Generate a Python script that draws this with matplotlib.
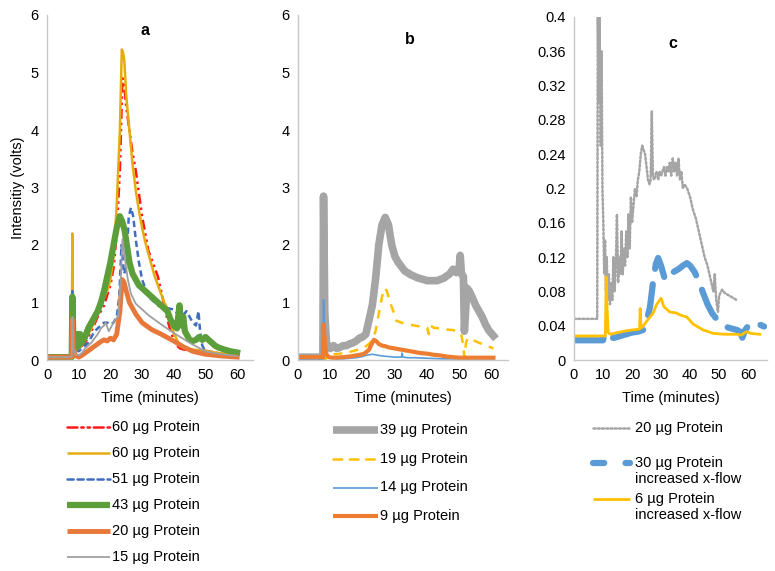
import matplotlib
matplotlib.use("Agg")
import matplotlib.pyplot as plt
from matplotlib.lines import Line2D

plt.rcParams['font.family'] = ['Liberation Sans', 'DejaVu Sans']

# ---------------- Panel a ----------------
a_red_t = [0, 7.8, 8.0, 8.3, 9, 10, 12, 14, 16, 18, 20, 21, 22, 23, 23.8, 24.3, 25, 26, 27, 28, 29, 30, 31, 32, 33, 34, 35, 36, 37, 38, 39, 40, 41, 42, 44, 46, 48, 50, 52, 54, 56, 58, 60]
a_red_v = [0.05, 0.05, 1.0, 0.3, 0.2, 0.2, 0.3, 0.5, 0.75, 0.95, 1.3, 1.6, 2.2, 3.3, 4.9, 4.8, 4.4, 4.0, 3.6, 3.3, 2.9, 2.5, 2.2, 1.9, 1.75, 1.6, 1.45, 1.2, 0.95, 0.7, 0.5, 0.35, 0.25, 0.2, 0.17, 0.17, 0.17, 0.16, 0.14, 0.12, 0.1, 0.09, 0.08]

a_yel_t = [0, 7.8, 8.0, 8.2, 8.6, 9, 10, 12, 14, 16, 17, 18, 19, 20, 21, 22, 23, 23.6, 24.0, 24.4, 25, 26, 27, 28, 29, 30, 31, 32, 33, 34, 35, 36, 37, 38, 39, 40, 41, 42, 44, 46, 48, 50, 52, 54, 56, 58, 60]
a_yel_v = [0.05, 0.05, 2.2, 0.8, 0.3, 0.2, 0.2, 0.35, 0.55, 0.8, 1.0, 1.1, 1.2, 1.4, 1.8, 2.7, 4.0, 5.4, 5.35, 5.2, 4.6, 4.0, 3.4, 2.95, 2.6, 2.3, 2.05, 1.85, 1.65, 1.45, 1.3, 1.15, 1.0, 0.9, 0.65, 0.47, 0.35, 0.25, 0.2, 0.18, 0.17, 0.16, 0.14, 0.12, 0.11, 0.1, 0.09]

a_blu_t = [0, 7.8, 8.0, 8.3, 9, 10, 11, 12, 13, 14, 15, 16, 17, 18, 19, 20, 21, 22, 22.8, 23.5, 24.3, 25.0, 25.8, 26.5, 27.2, 28, 29, 30, 31, 32, 33, 34, 35, 36, 38, 40, 41, 42, 43, 44, 45, 46, 47, 47.8, 48.3, 49, 50, 51, 53, 55, 58, 60]
a_blu_v = [0.05, 0.05, 1.2, 0.4, 0.2, 0.15, 0.2, 0.25, 0.3, 0.4, 0.5, 0.55, 0.6, 0.65, 0.65, 0.62, 0.65, 0.75, 1.1, 2.0, 1.5, 1.6, 2.5, 2.65, 2.5, 2.1, 1.7, 1.4, 1.25, 1.1, 1.05, 1.0, 0.95, 0.92, 0.9, 0.88, 0.82, 0.85, 0.78, 0.85, 0.75, 0.65, 0.6, 0.85, 0.5, 0.25, 0.15, 0.12, 0.1, 0.08, 0.07, 0.06]

a_grn_t = [0, 7.8, 8.0, 8.3, 9, 9.6, 10, 10.5, 11, 12, 13, 14, 15, 16, 17, 18, 19, 20, 21, 22, 23, 23.8, 24.5, 25.2, 26, 27, 28, 29, 30, 31, 32, 33, 34, 35, 36, 37, 38, 39, 40, 41, 41.8, 42.4, 43, 43.5, 44, 45, 46, 47, 48, 49, 50, 51, 52, 53, 54, 56, 58, 60]
a_grn_v = [0.05, 0.05, 1.1, 0.4, 0.2, 0.45, 0.25, 0.45, 0.3, 0.4, 0.55, 0.65, 0.75, 0.85, 1.0, 1.2, 1.45, 1.7, 2.0, 2.3, 2.5, 2.4, 2.25, 2.0, 1.7, 1.5, 1.4, 1.3, 1.25, 1.2, 1.15, 1.1, 1.05, 1.0, 0.95, 0.9, 0.85, 0.7, 0.6, 0.55, 0.95, 0.6, 0.75, 0.5, 0.45, 0.35, 0.33, 0.35, 0.4, 0.35, 0.4, 0.35, 0.3, 0.25, 0.22, 0.18, 0.15, 0.13]

a_org_t = [0, 7.8, 8.0, 8.3, 9, 10, 11, 12, 14, 16, 17, 18, 19, 20, 21, 22, 23, 23.7, 24.3, 25, 26, 28, 30, 33, 36, 40, 43, 46, 50, 55, 60]
a_org_v = [0.05, 0.05, 0.7, 0.2, 0.08, 0.05, 0.08, 0.12, 0.2, 0.28, 0.32, 0.35, 0.33, 0.38, 0.35, 0.45, 0.85, 1.4, 1.35, 1.2, 1.0, 0.8, 0.65, 0.53, 0.45, 0.33, 0.23, 0.15, 0.1, 0.07, 0.05]

a_gry_t = [0, 7.8, 8.0, 8.3, 9, 10, 11, 12, 14, 16, 17, 18, 18.5, 19.5, 20.5, 21.5, 22.5, 23.2, 23.8, 24.5, 25.5, 26.5, 28, 32, 36, 40, 45, 50, 55, 60]
a_gry_v = [0.05, 0.05, 0.75, 0.2, 0.1, 0.08, 0.12, 0.2, 0.3, 0.45, 0.55, 0.6, 0.65, 0.5, 0.6, 0.7, 0.75, 1.3, 2.1, 1.8, 1.4, 1.15, 0.98, 0.78, 0.62, 0.47, 0.3, 0.15, 0.1, 0.07]

# ---------------- Panel b ----------------
b_gry_t = [0, 7.7, 7.9, 8.3, 8.8, 9.3, 10, 11, 12, 13, 14, 15, 16, 17, 18, 19, 20, 21, 22, 23, 24, 25, 26, 27, 28, 29, 30, 31, 33, 35, 37, 40, 43, 45, 47, 48, 49, 49.8, 50.2, 50.6, 51.2, 51.5, 52.3, 53, 54, 55, 56, 57, 58, 59, 60.5]
b_gry_v = [0.05, 0.05, 2.85, 0.8, 0.3, 0.25, 0.2, 0.25, 0.2, 0.22, 0.25, 0.25, 0.28, 0.3, 0.33, 0.38, 0.4, 0.45, 0.7, 0.95, 1.4, 2.0, 2.35, 2.48, 2.35, 2.0, 1.8, 1.7, 1.55, 1.48, 1.43, 1.38, 1.38, 1.42, 1.5, 1.58, 1.52, 1.55, 1.82, 1.5, 1.45, 0.5, 1.25, 1.2, 1.08, 0.95, 0.85, 0.75, 0.62, 0.52, 0.42]

b_yel_t = [8.5, 9, 10, 12, 14, 16, 18, 20, 22, 23, 24, 25, 26, 26.8, 27.5, 28.5, 29.5, 30.5, 32, 34, 36, 38, 40, 40.5, 41, 42, 44, 46, 48, 49.5, 50.5, 51.0, 51.5, 52.0, 52.5, 54, 56, 58, 60.5]
b_yel_v = [0.0, 0.15, 0.1, 0.1, 0.12, 0.14, 0.17, 0.2, 0.28, 0.35, 0.5, 0.8, 1.1, 1.25, 1.2, 1.0, 0.85, 0.68, 0.65, 0.62, 0.6, 0.58, 0.56, 0.45, 0.6, 0.56, 0.55, 0.53, 0.52, 0.5, 0.45, 0.3, 0.05, 0.3, 0.38, 0.35, 0.3, 0.26, 0.2]

b_blu_t = [0, 7.7, 7.9, 8.2, 8.6, 9.5, 10.5, 12, 14, 16, 18, 20, 21, 22, 23, 24, 25, 26, 28, 30, 32, 32.2, 32.5, 34, 36, 40, 45, 50, 55, 60.5]
b_blu_v = [0.02, 0.02, 1.05, 0.5, 0.15, 0.05, 0.03, 0.02, 0.02, 0.03, 0.04, 0.06, 0.08, 0.09, 0.1, 0.09, 0.08, 0.07, 0.06, 0.05, 0.05, 0.12, 0.05, 0.04, 0.04, 0.03, 0.02, 0.02, 0.02, 0.02]

b_org_t = [0, 7.7, 7.9, 8.3, 8.8, 9.5, 10.5, 12, 14, 16, 18, 20, 21, 22, 22.8, 23.5, 24.2, 25, 26, 27, 28, 30, 32, 34, 36, 38, 40, 42, 44, 46, 48, 50, 55, 60.5]
b_org_v = [0.05, 0.05, 0.62, 0.3, 0.1, 0.05, 0.04, 0.04, 0.05, 0.06, 0.08, 0.1, 0.13, 0.18, 0.28, 0.35, 0.33, 0.28, 0.25, 0.24, 0.22, 0.2, 0.18, 0.16, 0.14, 0.12, 0.11, 0.09, 0.08, 0.06, 0.05, 0.04, 0.04, 0.04]

# ---------------- Panel c ----------------
c_gry_t = [0, 8.0, 8.2, 8.5, 8.8, 9.2, 9.5, 9.8, 10.1, 10.4, 10.7, 11.0, 11.3, 11.6, 12.0, 12.4, 12.8, 13.2, 13.6, 14.0, 14.4, 14.8, 15.2, 15.6, 16.0, 16.4, 16.8, 17.2, 17.6, 18.0, 18.4, 18.8, 19.2, 19.6, 20.0, 20.5, 21.0, 21.5, 22.0, 22.5, 23.0, 23.5, 24.0, 24.5, 25.0, 25.5, 26.0, 26.4, 26.8, 27.2, 27.6, 28.0, 28.5, 29, 29.5, 30, 30.5, 31, 31.5, 32, 32.5, 33, 33.5, 34, 34.5, 35, 35.5, 36, 36.5, 37, 37.5, 38, 39, 40, 41, 42, 43, 44, 45, 46, 47, 48, 48.5, 49, 49.6, 50, 51, 52, 53, 54, 55, 56]
c_gry_v = [0.048, 0.048, 0.4, 0.3, 0.4, 0.25, 0.36, 0.2, 0.16, 0.1, 0.14, 0.08, 0.12, 0.07, 0.1, 0.065, 0.09, 0.07, 0.12, 0.08, 0.11, 0.17, 0.09, 0.12, 0.1, 0.15, 0.1, 0.13, 0.11, 0.15, 0.12, 0.17, 0.13, 0.19, 0.16, 0.18, 0.2, 0.19, 0.21, 0.22, 0.24, 0.25, 0.245, 0.24, 0.225, 0.21, 0.205, 0.21, 0.29, 0.215, 0.21, 0.215, 0.22, 0.21, 0.22, 0.215, 0.22, 0.225, 0.215, 0.225, 0.22, 0.23, 0.215, 0.235, 0.22, 0.23, 0.215, 0.235, 0.21, 0.22, 0.2, 0.205, 0.2, 0.19, 0.175, 0.165, 0.15, 0.135, 0.12, 0.11, 0.095, 0.08, 0.1, 0.07, 0.056, 0.075, 0.082, 0.078, 0.076, 0.074, 0.072, 0.07]

c_blu_t = [0, 10.0, 10.5, 11.0, 12, 14, 16, 18, 20, 22, 23.8, 25, 26.2, 27.2, 28.2, 29, 30, 31.4, 32.5, 34, 36, 37.5, 38.9, 40, 41.5, 43, 44.5, 46, 47.5, 49.3, 51, 53, 55, 56.2, 57.2, 58, 59, 60.7, 62, 63.5, 65.5]
c_blu_v = [0.023, 0.023, 0.03, 0.025, 0.025, 0.026, 0.028, 0.03, 0.032, 0.033, 0.035, 0.045, 0.062, 0.09, 0.112, 0.119, 0.11, 0.093, 0.097, 0.102, 0.106, 0.11, 0.113, 0.11, 0.103, 0.092, 0.078, 0.065, 0.055, 0.047, 0.042, 0.038, 0.036, 0.035, 0.033, 0.026, 0.035, 0.043, 0.042, 0.042, 0.039]

c_yel_t = [0, 10.8, 11.1, 11.4, 11.8, 12.5, 15, 18, 20, 22.6, 22.8, 23.1, 23.5, 25, 27.3, 28.5, 30, 31, 33, 35, 37, 38.9, 41, 44.5, 48, 52, 56, 57.5, 59.5, 61, 64]
c_yel_v = [0.028, 0.028, 0.097, 0.06, 0.032, 0.03, 0.032, 0.034, 0.035, 0.036, 0.06, 0.038, 0.038, 0.045, 0.055, 0.065, 0.072, 0.062, 0.056, 0.055, 0.052, 0.05, 0.042, 0.035, 0.031, 0.03, 0.03, 0.029, 0.033, 0.031, 0.03]

a_labels = ["60 µg Protein", "60 µg Protein", "51 µg Protein", "43 µg Protein", "20 µg Protein", "15 µg Protein"]
b_labels = ["39 µg Protein", "19 µg Protein", "14 µg Protein", "9 µg Protein"]
c_labels = ["20 µg Protein", "30 µg Protein\nincreased x-flow", "6 µg Protein\nincreased x-flow"]

a_yticks = [0, 1, 2, 3, 4, 5, 6]
c_yticks = [0, 0.04, 0.08, 0.12, 0.16, 0.2, 0.24, 0.28, 0.32, 0.36, 0.4]
c_yticklabels = ["0", "0.04", "0.08", "0.12", "0.16", "0.2", "0.24", "0.28", "0.32", "0.36", "0.4"]
xticks = [0, 10, 20, 30, 40, 50, 60]

# styles
a_styles = [
    dict(color='#FF1A1A', lw=1.8, ls=(0, (4, 1.5, 1, 1.5, 1, 1.5))),
    dict(color='#E5AC10', lw=1.8, ls='-'),
    dict(color='#3F6EC0', lw=1.8, ls=(0, (2.5, 1.5))),
    dict(color='#5B9E3A', lw=4.5, ls='-'),
    dict(color='#E8783A', lw=3.5, ls='-'),
    dict(color='#A0A0A0', lw=1.3, ls='-'),
]
b_styles = [
    dict(color='#A5A5A5', lw=5.5, ls='-'),
    dict(color='#FFC000', lw=1.8, ls=(0, (3.5, 3))),
    dict(color='#5B9BD5', lw=1.2, ls='-'),
    dict(color='#ED7D31', lw=3.0, ls='-'),
]
c_styles = [
    dict(color='#A5A5A5', lw=1.8, ls=(0, (0.8, 0.9))),
    dict(color='#5B9BD5', lw=4.5, ls=(0, (5, 2.5)), leg_ls=(0, (1.8, 3.4))),
    dict(color='#FFC000', lw=2.0, ls='-'),
]

W, H = 775, 571
fig = plt.figure(figsize=(W / 100, H / 100), dpi=100)

def px_axes(x0, x1, ytop, ybot):
    return fig.add_axes([x0 / W, 1 - ybot / H, (x1 - x0) / W, (ybot - ytop) / H])

axa = px_axes(47, 253, 15, 360)
axb = px_axes(298, 508, 15, 360)
axc = px_axes(574, 767, 17, 360)

for t, v, s in zip([a_red_t, a_yel_t, a_blu_t, a_grn_t, a_org_t, a_gry_t],
                   [a_red_v, a_yel_v, a_blu_v, a_grn_v, a_org_v, a_gry_v], a_styles):
    axa.plot(t, v, color=s['color'], lw=s['lw'], ls=s['ls'], solid_joinstyle='round')
for t, v, s in zip([b_gry_t, b_yel_t, b_blu_t, b_org_t],
                   [b_gry_v, b_yel_v, b_blu_v, b_org_v], b_styles):
    axb.plot(t, v, color=s['color'], lw=s['lw'], ls=s['ls'], solid_joinstyle='round')
for t, v, s in zip([c_gry_t, c_blu_t, c_yel_t],
                   [c_gry_v, c_blu_v, c_yel_v], c_styles):
    axc.plot(t, v, color=s['color'], lw=s['lw'], ls=s['ls'], solid_joinstyle='round',
             dash_capstyle='round')

for ax, xmax in [(axa, 65), (axb, 65), (axc, 66.5)]:
    ax.set_xlim(0, xmax)
    ax.set_xticks(xticks)
    for sp in ['top', 'right']:
        ax.spines[sp].set_visible(False)
    for sp in ['left', 'bottom']:
        ax.spines[sp].set_color('#C8C8C8')
        ax.spines[sp].set_linewidth(1.0)
    ax.tick_params(length=0, labelsize=10.5, pad=6)
    ax.set_xlabel("Time (minutes)", fontsize=10.5, labelpad=6)

for ax in (axa, axb):
    ax.set_ylim(0, 6)
    ax.set_yticks(a_yticks)
axc.set_ylim(0, 0.4)
axc.set_yticks(c_yticks)
axc.set_yticklabels(c_yticklabels)
axa.set_ylabel("Intensitiy (volts)", fontsize=10.5, labelpad=4)

axa.text(0.476, 0.954, "a", transform=axa.transAxes, fontsize=11.5, fontweight='bold', ha='center', va='center')
axb.text(0.533, 0.93, "b", transform=axb.transAxes, fontsize=11.5, fontweight='bold', ha='center', va='center')
axc.text(0.513, 0.924, "c", transform=axc.transAxes, fontsize=11.5, fontweight='bold', ha='center', va='center')

def legend_entry(x0, x1, y, style, label, tx):
    fig.add_artist(Line2D([x0 / W, x1 / W], [1 - y / H, 1 - y / H], transform=fig.transFigure,
                          color=style['color'], lw=style['lw'], ls=style.get('leg_ls', style['ls']),
                          dash_capstyle='round', solid_capstyle='butt'))
    fig.text(tx / W, 1 - (y - 7) / H, label, fontsize=10.5, ha='left', va='top', linespacing=1.15)

a_rows = [427, 452.5, 478.5, 505, 531, 556.5]
for y, s, lab in zip(a_rows, a_styles, a_labels):
    legend_entry(67, 110, y, s, lab, 112)
b_rows = [430, 459, 487.5, 516]
for y, s, lab in zip(b_rows, b_styles, b_labels):
    legend_entry(333, 378, y, s, lab, 380)
c_rows = [428, 463, 499]
for y, s, lab in zip(c_rows, c_styles, c_labels):
    legend_entry(593, 630, y, s, lab, 635)

fig.savefig("out.png", dpi=100)
